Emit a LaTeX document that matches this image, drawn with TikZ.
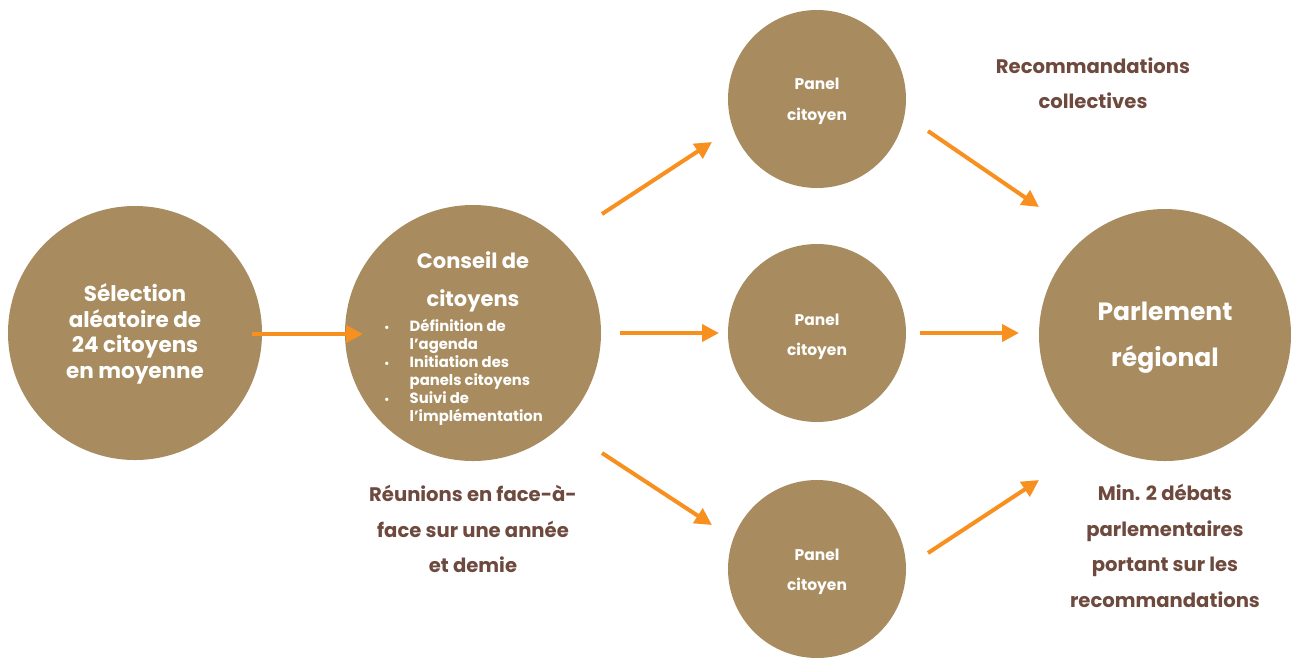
\documentclass[tikz,border=0pt]{standalone}
\usepackage{fontspec}
\setmainfont{Poppins}
\usetikzlibrary{arrows.meta}
\definecolor{gold}{HTML}{A88C5F}
\definecolor{arr}{HTML}{F7901E}
\definecolor{brn}{HTML}{6E4A3E}
\tikzset{
  disc/.style={circle,fill=gold,draw=none,inner sep=0pt},
  wtext/.style={text=white,align=center,font=\bfseries},
  lbl/.style={text=brn,align=center,font=\bfseries\fontsize{19.6}{35.5}\selectfont},
  flow/.style={draw=arr,line width=4pt,-{Triangle[length=17pt,width=17pt]}},
}
\begin{document}
\begin{tikzpicture}[x=1pt,y=-1pt]
\useasboundingbox (0,0) rectangle (1291,657);
% circles
\node[disc,minimum size=254pt] (sel) at (135,333) {};
\node[disc,minimum size=256pt] (cons) at (473,333) {};
\node[disc,minimum size=178pt] (p1) at (817,99) {};
\node[disc,minimum size=178pt] (p2) at (817,333) {};
\node[disc,minimum size=178pt] (p3) at (817,569) {};
\node[disc,minimum size=252pt] (parl) at (1165,335) {};
% circle texts
\node[wtext,font=\bfseries\fontsize{21.5}{25.5}\selectfont] (selt) at (135,334) {Sélection\\aléatoire de\\24 citoyens\\en moyenne};
\node[wtext,font=\bfseries\fontsize{21}{38}\selectfont] (const) at (473,282) {Conseil de\\citoyens};
\node[text=white,anchor=north west,inner sep=0pt,font=\bfseries\fontsize{14.8}{18}\selectfont] (bul) at (384,319)
 {\begin{tabular}{@{}l@{\hspace{20pt}}l@{}}
  \fontsize{11}{18}\selectfont• & Définition de\\
  & l’agenda\\
  \fontsize{11}{18}\selectfont• & Initiation des\\
  & panels citoyens\\
  \fontsize{11}{18}\selectfont• & Suivi de\\
  & l’implémentation
 \end{tabular}};
\node[wtext,font=\bfseries\fontsize{15.5}{31}\selectfont] (p1t) at (817,101) {Panel\\citoyen};
\node[wtext,font=\bfseries\fontsize{15.5}{30}\selectfont] (p2t) at (817,337) {Panel\\citoyen};
\node[wtext,font=\bfseries\fontsize{15.5}{30}\selectfont] (p3t) at (817,572) {Panel\\citoyen};
\node[wtext,font=\bfseries\fontsize{25}{46}\selectfont] (parlt) at (1165,338) {Parlement\\régional};
% labels
\node[lbl] (reco) at (1093,83) {Recommandations\\collectives};
\node[lbl] (reun) at (473,529) {Réunions en face-à-\\face sur une année\\et demie};
\node[lbl] (deb) at (1165,546) {Min. 2 débats\\parlementaires\\portant sur les\\recommandations};
% arrow ends
\coordinate (a1s) at (252,334); \coordinate (a1e) at (363,334);
\coordinate (a2s) at (602,214); \coordinate (a2e) at (712,142);
\coordinate (a3s) at (620,333); \coordinate (a3e) at (719,333);
\coordinate (a4s) at (602,453); \coordinate (a4e) at (712,525);
\coordinate (a5s) at (928,131); \coordinate (a5e) at (1039,207);
\coordinate (a6s) at (920,333); \coordinate (a6e) at (1019,333);
\coordinate (a7s) at (928,553); \coordinate (a7e) at (1039,480);
\draw[flow] (a1s) -- (a1e);
\draw[flow] (a2s) -- (a2e);
\draw[flow] (a3s) -- (a3e);
\draw[flow] (a4s) -- (a4e);
\draw[flow] (a5s) -- (a5e);
\draw[flow] (a6s) -- (a6e);
\draw[flow] (a7s) -- (a7e);
\end{tikzpicture}
\end{document}
